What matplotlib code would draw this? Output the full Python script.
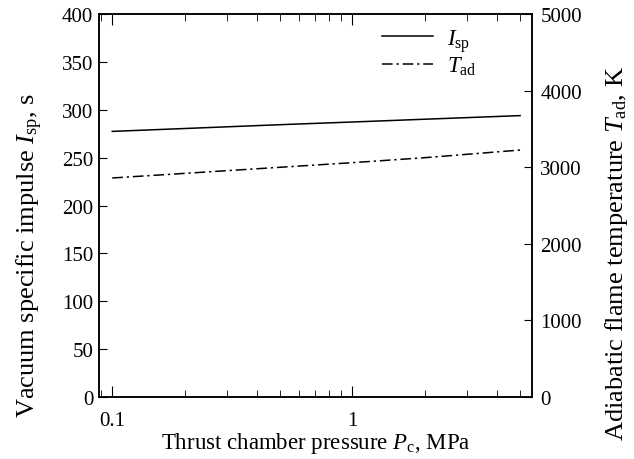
import numpy as np
import matplotlib as mpl
import matplotlib.pyplot as plt
from matplotlib.ticker import FixedLocator, LogLocator, NullFormatter, FixedFormatter

# data
pc = [0.1, 0.2, 0.5, 1.0, 2.0, 5.0]                  # MPa
isp = [277.5, 280.5, 284.5, 287.3, 290.2, 294.0]     # s
tad = [2860, 2920, 3000, 3060, 3125, 3225]           # K

mpl.rcParams['font.family'] = ['Liberation Serif', 'DejaVu Serif']
mpl.rcParams['mathtext.fontset'] = 'custom'
mpl.rcParams['mathtext.rm'] = 'Liberation Serif'
mpl.rcParams['mathtext.it'] = 'Liberation Serif:italic'
tsize = 15

fig = plt.figure(figsize=(6.34, 4.6), dpi=100)
ax = fig.add_axes([0.156, 0.135, 0.683, 0.832])
ax2 = ax.twinx()

l1, = ax.plot(pc, isp, '-k', lw=1.1, label=r'$I_{\rm sp}$')
l2, = ax2.plot(pc, tad, color='k', lw=1.1, dashes=(7, 2.5, 1.5, 2.5), label=r'$T_{\rm ad}$')

ax.set_xscale('log')
ax.set_xlim(0.088, 5.6)
ax.set_ylim(0, 400)
ax2.set_ylim(0, 5000)

ax.xaxis.set_major_locator(FixedLocator([0.1, 1]))
ax.xaxis.set_major_formatter(FixedFormatter(['0.1', '1']))
ax.xaxis.set_minor_locator(LogLocator(base=10, subs=np.arange(2, 10)))
ax.xaxis.set_minor_formatter(NullFormatter())
ax.set_yticks(np.arange(0, 401, 50))
ax2.set_yticks(np.arange(0, 5001, 1000))

ax.tick_params(axis='both', which='both', direction='in', top=True, labelsize=tsize)
ax.tick_params(axis='x', which='major', length=8, pad=10)
ax.tick_params(axis='x', which='minor', length=5)
ax.tick_params(axis='y', length=6, pad=4)
ax2.tick_params(axis='y', direction='in', length=6, pad=6, labelsize=tsize)

for a in (ax, ax2):
    for s in a.spines.values():
        s.set_linewidth(1.1)

ax.set_xlabel(r'Thrust chamber pressure $P_{\rm c}$, MPa', fontsize=16.5, labelpad=0)
ax.set_ylabel(r'Vacuum specific impulse $I_{\rm sp}$, s', fontsize=19)
ax2.set_ylabel(r'Adiabatic flame temperature $T_{\rm ad}$, K', fontsize=19)
ax.yaxis.set_label_coords(-0.125, 0.371)
ax2.yaxis.set_label_coords(1.164, 0.376)

ax.legend([l1, l2], [l1.get_label(), l2.get_label()], loc='upper left',
          bbox_to_anchor=(0.607, 1.021), frameon=False, fontsize=16.5,
          handlelength=2.2, labelspacing=0.05, handletextpad=0.6)

fig.savefig('out.png', dpi=100)
